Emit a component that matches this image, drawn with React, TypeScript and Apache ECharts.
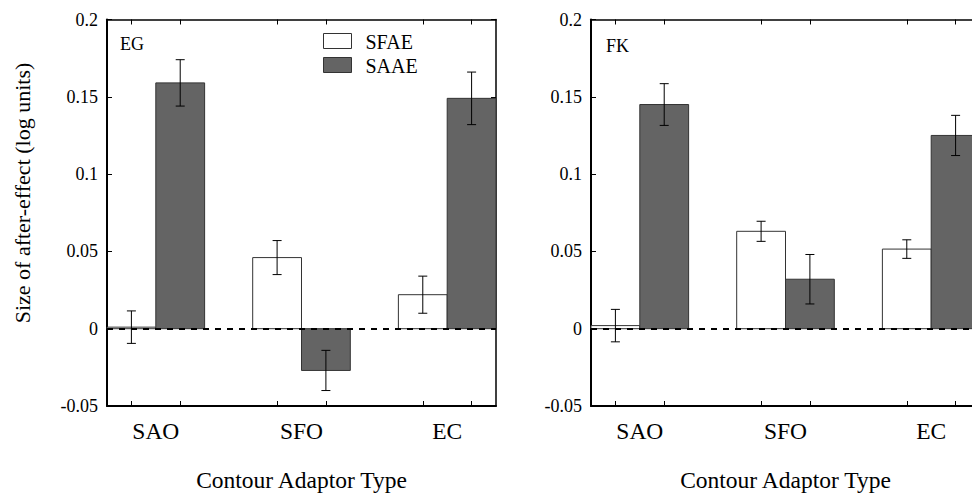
import React, { useEffect, useRef } from "react";
import * as echarts from "echarts";

// Adaptor conditions and their positions on the x scale
const categories = ["SAO", "SFO", "EC"];
const positions = [1, 2, 3];
const seriesNames = ["SFAE", "SAAE"];

// Observer EG: mean after-effect and error (log units)
const egSFAE = [0.001, 0.046, 0.022];
const egSFAEErr = [0.0105, 0.011, 0.012];
const egSAAE = [0.159, -0.027, 0.149];
const egSAAEErr = [0.015, 0.013, 0.017];

// Observer FK
const fkSFAE = [0.002, 0.063, 0.0515];
const fkSFAEErr = [0.0105, 0.0065, 0.006];
const fkSAAE = [0.145, 0.032, 0.125];
const fkSAAEErr = [0.0135, 0.016, 0.013];

const yTicks = { min: -0.05, max: 0.2, interval: 0.05 };

const FONT = "Liberation Serif, Times New Roman, serif";
const BAR_W = 0.335;
const X_MIN = 1 - BAR_W;
const X_MAX = 3 + BAR_W;
const SAAE_FILL = "#646464";
const SFAE_FILL = "#ffffff";
const FILLS = [SFAE_FILL, SAAE_FILL];
const EDGE = "#333333";

const tickValues = positions.flatMap((p) => [p - BAR_W / 2, p + BAR_W / 2]);

function barSeries(
  name: string,
  values: number[],
  errs: number[],
  gridIndex: number,
  fill: string,
  left: boolean,
  withZeroLine: boolean
) {
  const data = positions.map((p, i) => [p, values[i], errs[i]]);
  const s: any = {
    type: "custom",
    name,
    xAxisIndex: gridIndex * 2,
    yAxisIndex: gridIndex * 2,
    data,
    encode: { x: 0, y: 1 },
    itemStyle: { color: fill, borderColor: EDGE, borderWidth: 1 },
    renderItem: (params: any, api: any) => {
      const g = api.value(0);
      const v = api.value(1);
      const e = api.value(2);
      const x0 = left ? g - BAR_W : g;
      const x1 = left ? g : g + BAR_W;
      const a = api.coord([x0, 0]);
      const b = api.coord([x1, v]);
      const cx = api.coord([(x0 + x1) / 2, 0])[0];
      const yt = api.coord([g, v + e])[1];
      const yb = api.coord([g, v - e])[1];
      const lineStyle = { stroke: "#000", lineWidth: 1 };
      const cap = 4.5;
      return {
        type: "group",
        children: [
          {
            type: "rect",
            shape: {
              x: Math.min(a[0], b[0]),
              y: Math.min(a[1], b[1]),
              width: Math.abs(b[0] - a[0]),
              height: Math.max(Math.abs(b[1] - a[1]), 1),
            },
            style: { fill, stroke: EDGE, lineWidth: 1 },
          },
          { type: "line", shape: { x1: cx, y1: yt, x2: cx, y2: yb }, style: lineStyle },
          { type: "line", shape: { x1: cx - cap, y1: yt, x2: cx + cap, y2: yt }, style: lineStyle },
          { type: "line", shape: { x1: cx - cap, y1: yb, x2: cx + cap, y2: yb }, style: lineStyle },
        ],
      };
    },
  };
  if (withZeroLine) {
    s.markLine = {
      silent: true,
      symbol: ["none", "none"],
      z: 10,
      label: { show: false },
      lineStyle: { color: "#000", width: 2, type: [6, 6] },
      data: [{ yAxis: 0 }],
    };
  }
  return s;
}

function axesFor(gridIndex: number) {
  const xBottom = {
    type: "value",
    gridIndex,
    position: "bottom",
    min: X_MIN,
    max: X_MAX,
    name: "Contour Adaptor Type",
    nameLocation: "middle",
    nameGap: 62,
    nameTextStyle: { fontFamily: FONT, fontSize: 23.5, color: "#000" },
    axisLine: { show: true, onZero: false, lineStyle: { color: "#000", width: 2 } },
    axisTick: {
      show: true,
      inside: true,
      length: 5,
      customValues: tickValues,
      lineStyle: { color: "#000", width: 1 },
    },
    axisLabel: {
      show: true,
      customValues: positions,
      margin: 13,
      fontFamily: FONT,
      fontSize: 23.5,
      color: "#000",
      formatter: (v: number) => categories[positions.indexOf(Math.round(v))] ?? "",
    },
    splitLine: { show: false },
  };
  const xTop = {
    type: "value",
    gridIndex,
    position: "top",
    min: X_MIN,
    max: X_MAX,
    axisLine: { show: true, onZero: false, lineStyle: { color: "#000", width: 1.5 } },
    axisTick: {
      show: true,
      inside: true,
      length: 5,
      customValues: tickValues,
      lineStyle: { color: "#000", width: 1 },
    },
    axisLabel: { show: false },
    splitLine: { show: false },
  };
  const yLeft = {
    type: "value",
    gridIndex,
    position: "left",
    min: yTicks.min,
    max: yTicks.max,
    interval: yTicks.interval,
    axisLine: { show: true, onZero: false, lineStyle: { color: "#000", width: 2 } },
    axisTick: { show: true, inside: true, length: 5, lineStyle: { color: "#000", width: 1 } },
    axisLabel: {
      show: true,
      margin: 9,
      fontFamily: FONT,
      fontSize: 18,
      color: "#000",
    },
    splitLine: { show: false },
  };
  const yRight = {
    type: "value",
    gridIndex,
    position: "right",
    min: yTicks.min,
    max: yTicks.max,
    interval: yTicks.interval,
    axisLine: { show: true, onZero: false, lineStyle: { color: "#000", width: 1.5 } },
    axisTick: { show: true, inside: true, length: 5, lineStyle: { color: "#000", width: 1 } },
    axisLabel: { show: false },
    splitLine: { show: false },
  };
  return { x: [xBottom, xTop], y: [yLeft, yRight] };
}

// Key for the two after-effect types, drawn inside the left panel
function legendGraphics(left: number, top: number) {
  const out: any[] = [];
  seriesNames.forEach((name, i) => {
    const y = top + i * 24;
    out.push({
      type: "rect",
      shape: { x: left, y, width: 28, height: 15 },
      style: { fill: FILLS[i], stroke: EDGE, lineWidth: 1 },
    });
    out.push({
      type: "text",
      x: left + 42,
      y: y + 8,
      style: {
        text: name,
        fontFamily: "Liberation Serif",
        fontSize: 20,
        fill: "#000",
        verticalAlign: "middle",
      },
    });
  });
  return out;
}

export default function App() {
  const ref = useRef<HTMLDivElement>(null);

  useEffect(() => {
    document.body.style.margin = "0";
    if (!ref.current) return;
    const chart = echarts.init(ref.current, null, { renderer: "svg" });
    const a0 = axesFor(0);
    const a1 = axesFor(1);

    chart.setOption({
      animation: false,
      backgroundColor: "#ffffff",
      grid: [
        { left: 107, top: 19.5, width: 389, height: 389 },
        { left: 591, top: 19.5, width: 389, height: 389 },
      ],
      xAxis: [...a0.x, ...a1.x],
      yAxis: [...a0.y, ...a1.y],
      graphic: [
        ...legendGraphics(323.5, 33.5),
        {
          type: "text",
          x: 22,
          y: 193,
          rotation: Math.PI / 2,
          style: {
            text: "Size of after-effect (log units)",
            fontFamily: "Liberation Serif",
            fontSize: 22,
            fill: "#000",
            align: "center",
            verticalAlign: "middle",
          },
        },
        {
          type: "text",
          x: 120,
          y: 44,
          style: {
            text: "EG",
            fontFamily: "Liberation Serif",
            fontSize: 18,
            fill: "#000",
            verticalAlign: "middle",
          },
        },
        {
          type: "text",
          x: 606,
          y: 46,
          style: {
            text: "FK",
            fontFamily: "Liberation Serif",
            fontSize: 18,
            fill: "#000",
            verticalAlign: "middle",
          },
        },
      ],
      series: [
        barSeries(seriesNames[0], egSFAE, egSFAEErr, 0, SFAE_FILL, true, false),
        barSeries(seriesNames[1], egSAAE, egSAAEErr, 0, SAAE_FILL, false, true),
        barSeries(seriesNames[0], fkSFAE, fkSFAEErr, 1, SFAE_FILL, true, false),
        barSeries(seriesNames[1], fkSAAE, fkSAAEErr, 1, SAAE_FILL, false, true),
      ],
    });

    return () => chart.dispose();
  }, []);

  return (
    <div style={{ width: 972, height: 497, overflow: "hidden" }}>
      <div ref={ref} style={{ width: 1000, height: 497 }} />
    </div>
  );
}
